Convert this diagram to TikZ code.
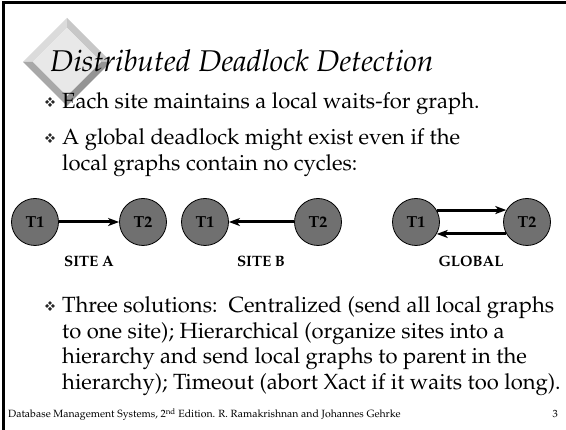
\documentclass[tikz,border=0pt]{standalone}
\usepackage[T1]{fontenc}
\usepackage{mathpazo}
\usetikzlibrary{arrows.meta}
\definecolor{nodegray}{HTML}{707070}
\tikzset{
  tnode/.style={circle, draw=black, line width=0.8pt, fill=nodegray, minimum size=47pt, inner sep=0pt, font=\fontsize{16}{18}\selectfont\bfseries},
  wfarrow/.style={line width=3pt, -{Stealth[length=11pt,width=8pt,inset=3pt]}},
  sitelabel/.style={font=\fontsize{15}{18}\selectfont\bfseries, anchor=base},
  body/.style={font=\fontsize{22}{25.7}\selectfont, anchor=base west, inner sep=0pt, align=left},
  bul/.pic={
    \foreach \dx/\dy in {0/-2.9, 2.9/0, 0/2.9, -2.9/0}
      \fill[black!85] (\dx,\dy) ++(0,-1.9) -- ++(1.9,1.9) -- ++(-1.9,1.9) -- ++(-1.9,-1.9) -- cycle;
  }
}
\begin{document}
\begin{tikzpicture}[x=1pt,y=-1pt]
\useasboundingbox (0,0) rectangle (566,430);
% frame
\draw[line width=3pt] (3,430) -- (3,3) -- (566,3);
% bevelled diamond
\coordinate (dT) at (67,18); \coordinate (dR) at (111,62);
\coordinate (dB) at (67,106); \coordinate (dL) at (23,62);
\coordinate (iT) at (67,28); \coordinate (iR) at (101,62);
\coordinate (iB) at (67,96); \coordinate (iL) at (33,62);
\fill[black!14] (dL) -- (dT) -- (iT) -- (iL) -- cycle;
\fill[black!22] (dT) -- (dR) -- (iR) -- (iT) -- cycle;
\fill[black!42] (dR) -- (dB) -- (iB) -- (iR) -- cycle;
\fill[black!34] (dB) -- (dL) -- (iL) -- (iB) -- cycle;
\fill[black!9] (iT) -- (iR) -- (iB) -- (iL) -- cycle;
% title
\node[anchor=base west, inner sep=0pt, font=\fontsize{30}{36}\selectfont\itshape] (title) at (50,72) {Distributed Deadlock Detection};
% bullet 1
\pic at (50,102) {bul};
\node[body] (b1) at (62,109) {Each site maintains a local waits-for graph.};
% bullet 2
\pic at (50,138) {bul};
\node[body] (b2a) at (62,145) {A global deadlock might exist even if the};
\node[body] (b2b) at (62,171) {local graphs contain no cycles:};
% site A
\node[tnode] (a1) at (35,222) {T1};
\node[tnode] (a2) at (143,222) {T2};
\draw[wfarrow] (a1) -- (a2);
\node[sitelabel] (la) at (89,267) {SITE A};
% site B
\node[tnode] (sb1) at (205,222) {T1};
\node[tnode] (sb2) at (318,222) {T2};
\draw[wfarrow] (sb2) -- (sb1);
\node[sitelabel] (lb) at (261,267) {SITE B};
% global
\node[tnode] (g1) at (416,222) {T1};
\node[tnode] (g2) at (527,222) {T2};
\draw[wfarrow] (g1.30) -- (g2.150);
\draw[wfarrow] (g2.210) -- (g1.330);
\node[sitelabel] (lg) at (471,267) {GLOBAL};
% bullet 3
\pic at (50,306) {bul};
\node[body] (b3a) at (62,313) {Three solutions:\ \ Centralized (send all local graphs};
\node[body] (b3b) at (62,339) {to one site); Hierarchical (organize sites into a};
\node[body] (b3c) at (62,364) {hierarchy and send local graphs to parent in the};
\node[body] (b3d) at (62,390) {hierarchy); Timeout (abort Xact if it waits too long).};
% footer
\node[anchor=base west, inner sep=0pt, font=\fontsize{10.5}{12}\selectfont] (foot) at (8,418) {Database Management Systems, 2\textsuperscript{nd} Edition. R. Ramakrishnan and Johannes Gehrke};
\node[anchor=base east, inner sep=0pt, font=\fontsize{10.5}{12}\selectfont] (pg) at (558,418) {3};
\end{tikzpicture}
\end{document}
